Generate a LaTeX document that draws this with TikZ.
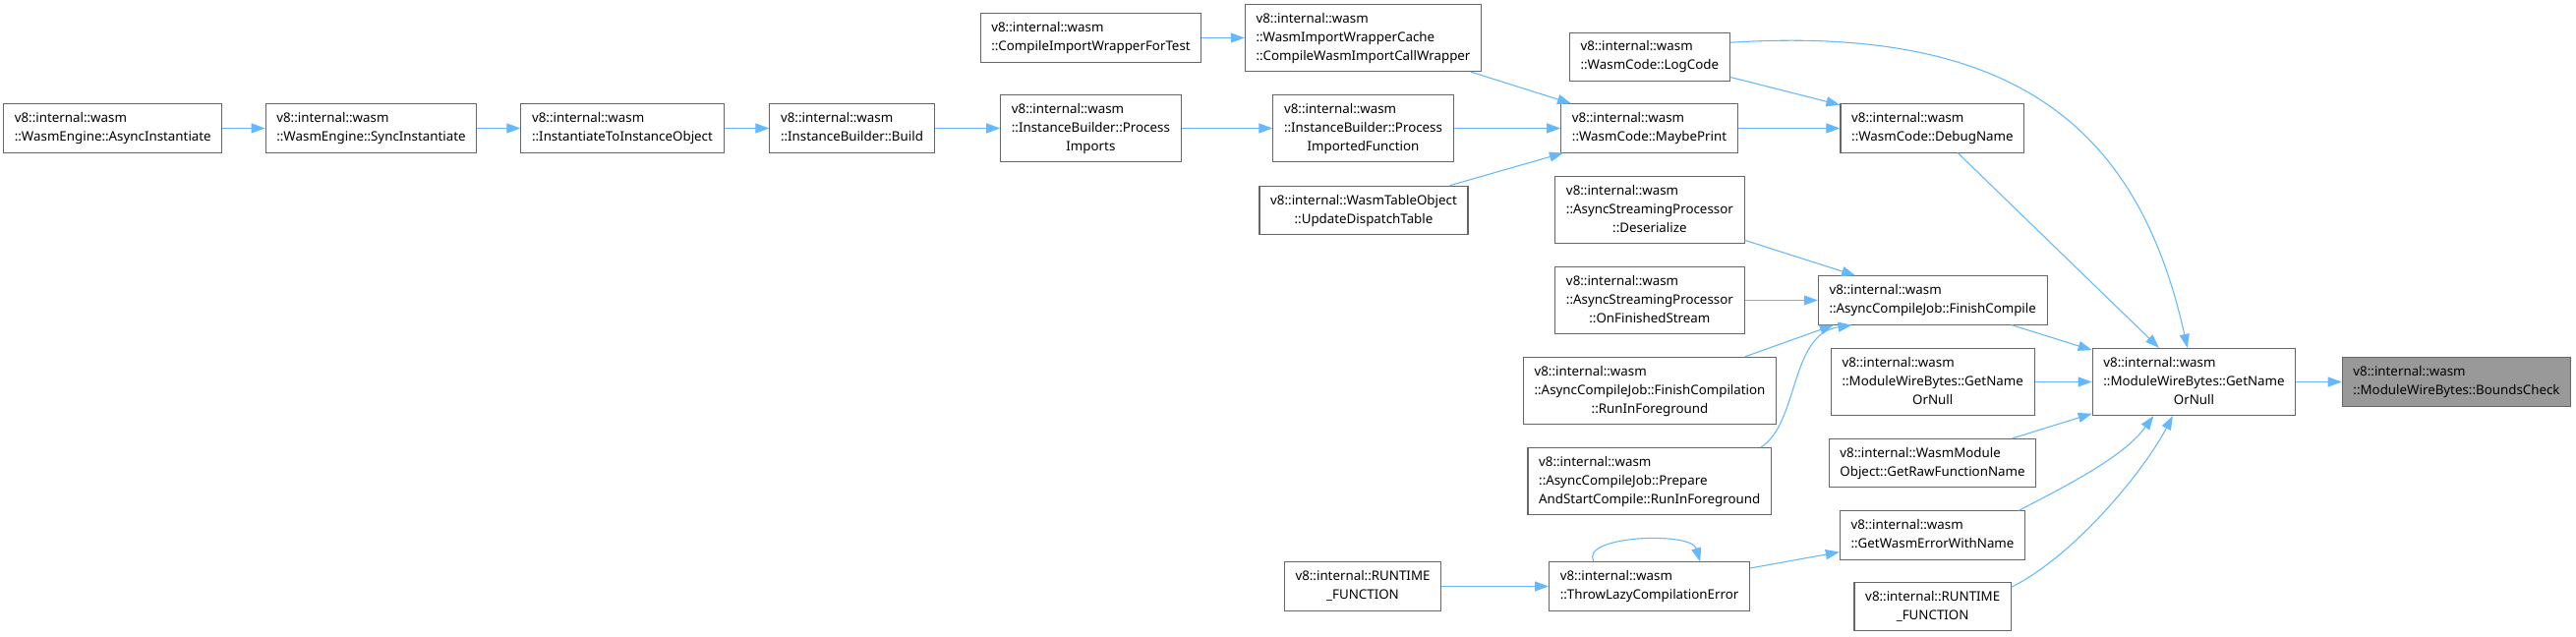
\documentclass[tikz,border=0pt]{standalone}
\usepackage{fontspec}
\setmainfont{Noto Sans}
\usepackage{tikz}
\usetikzlibrary{arrows.meta}
\definecolor{edgeblue}{HTML}{63B8FF}
\definecolor{boxgrey}{HTML}{666666}
\definecolor{hitgrey}{HTML}{999999}
\newcommand{\ltab}[1]{\begin{tabular}{@{}l@{}}#1\end{tabular}}
\newcommand{\ctab}[1]{\begin{tabular}{@{}c@{}}#1\end{tabular}}
\newcommand{\ctr}[1]{\multicolumn{1}{@{}c@{}}{#1}}

\begin{document}
\begin{tikzpicture}[
  x=0.75pt,y=-0.75pt,
  box/.style={rectangle,draw=boxgrey,fill=white,line width=0.8pt,
    inner xsep=8.4pt,inner ysep=4.2pt,font=\fontsize{10}{14.25}\selectfont},
  arrow/.style={-{Triangle[length=10.5pt,width=7.5pt]},line width=0.8pt,color=edgeblue}
]
  \fill[white] (0,0) rectangle (2620,648);

  % callers, left to right
  \node[box] (asyncinst) at (114.8,130.5) {\ltab{v8::internal::wasm\\::WasmEngine::AsyncInstantiate}};
  \node[box] (syncinst) at (377.5,130.5) {\ltab{v8::internal::wasm\\::WasmEngine::SyncInstantiate}};
  \node[box] (toinst) at (633,130.5) {\ltab{v8::internal::wasm\\::InstantiateToInstanceObject}};
  \node[box] (build) at (866.5,130.5) {\ltab{v8::internal::wasm\\::InstanceBuilder::Build}};
  \node[box] (procimp) at (1109.4,130.5) {\ltab{v8::internal::wasm\\::InstanceBuilder::Process\\\ctr{Imports}}};
  \node[box] (wrapfortest) at (1109.5,38.5) {\ltab{v8::internal::wasm\\::CompileImportWrapperForTest}};
  \node[box] (callwrapper) at (1386.5,38.5) {\ltab{v8::internal::wasm\\::WasmImportWrapperCache\\::CompileWasmImportCallWrapper}};
  \node[box] (procfunc) at (1386.5,130.5) {\ltab{v8::internal::wasm\\::InstanceBuilder::Process\\\ctr{ImportedFunction}}};
  \node[box] (dispatch) at (1387,213.8) {\ltab{v8::internal::WasmTableObject\\\ctr{::UpdateDispatchTable}}};
  \node[box] (runtimeleft) at (1386,596.5) {\ctab{v8::internal::RUNTIME\\\_FUNCTION}};

  \node[box] (logcode) at (1677.8,57.7) {\ltab{v8::internal::wasm\\::WasmCode::LogCode}};
  \node[box] (maybeprint) at (1677.5,130.5) {\ltab{v8::internal::wasm\\::WasmCode::MaybePrint}};
  \node[box] (deserialize) at (1677.9,213.5) {\ltab{v8::internal::wasm\\::AsyncStreamingProcessor\\\ctr{::Deserialize}}};
  \node[box] (onfinished) at (1677.9,305.5) {\ltab{v8::internal::wasm\\::AsyncStreamingProcessor\\\ctr{::OnFinishedStream}}};
  \node[box] (finishfg) at (1678,397.5) {\ltab{v8::internal::wasm\\::AsyncCompileJob::FinishCompilation\\\ctr{::RunInForeground}}};
  \node[box] (preparefg) at (1677.7,489.7) {\ltab{v8::internal::wasm\\::AsyncCompileJob::Prepare\\AndStartCompile::RunInForeground}};
  \node[box] (throwlazy) at (1677.6,596.5) {\ltab{v8::internal::wasm\\::ThrowLazyCompilationError}};

  \node[box] (debugname) at (1965.4,130.5) {\ltab{v8::internal::wasm\\::WasmCode::DebugName}};
  \node[box] (finishcompile) at (1965.7,305.5) {\ltab{v8::internal::wasm\\::AsyncCompileJob::FinishCompile}};
  \node[box] (nameornull) at (1965.7,388.5) {\ltab{v8::internal::wasm\\::ModuleWireBytes::GetName\\\ctr{OrNull}}};
  \node[box] (rawfuncname) at (1965.5,471.2) {\ltab{v8::internal::WasmModule\\Object::GetRawFunctionName}};
  \node[box] (errorwithname) at (1965.5,544.5) {\ltab{v8::internal::wasm\\::GetWasmErrorWithName}};
  \node[box] (runtimeright) at (1965.7,617.2) {\ctab{v8::internal::RUNTIME\\\_FUNCTION}};

  % callee
  \node[box] (getname) at (2231.5,388.5) {\ltab{v8::internal::wasm\\::ModuleWireBytes::GetName\\\ctr{OrNull}}};
  \node[box,fill=hitgrey] (boundscheck) at (2498.5,388.5) {\ltab{v8::internal::wasm\\::ModuleWireBytes::BoundsCheck}};

  \draw[arrow] (asyncinst) -- (syncinst);
  \draw[arrow] (syncinst) -- (toinst);
  \draw[arrow] (toinst) -- (build);
  \draw[arrow] (build) -- (procimp);
  \draw[arrow] (procimp) -- (procfunc);
  \draw[arrow] (wrapfortest) -- (callwrapper);
  \draw[arrow] (callwrapper) -- (maybeprint);
  \draw[arrow] (procfunc) -- (maybeprint);
  \draw[arrow] (dispatch) -- (maybeprint);
  \draw[arrow] (maybeprint) -- (debugname);
  \draw[arrow] (logcode) -- (debugname);
  \draw[arrow] (logcode.10) .. controls (2050,25) and (2175,130) .. (getname.101);
  \draw[arrow] (debugname) -- (getname);
  \draw[arrow] (deserialize) -- (finishcompile);
  \draw[arrow] (onfinished) -- (finishcompile);
  \draw[arrow] (finishfg) -- (finishcompile.194);
  \draw[arrow] (preparefg.17) .. controls (1830,430) and (1820,340) .. (finishcompile.197);
  \draw[arrow] (finishcompile) -- (getname);
  \draw[arrow] (nameornull) -- (getname);
  \draw[arrow] (rawfuncname) -- (getname);
  \draw[arrow] (errorwithname.16) .. controls (2100,495) and (2160,465) .. (getname.220);
  \draw[arrow] (runtimeright.14) .. controls (2110,565) and (2180,480) .. (getname.238);
  \draw[arrow] (runtimeleft) -- (throwlazy);
  \draw[arrow] (throwlazy.156) .. controls (1605,545) and (1720,540) .. (throwlazy.26);
  \draw[arrow] (throwlazy) -- (errorwithname);
  \draw[arrow] (getname) -- (boundscheck);
\end{tikzpicture}
\end{document}
